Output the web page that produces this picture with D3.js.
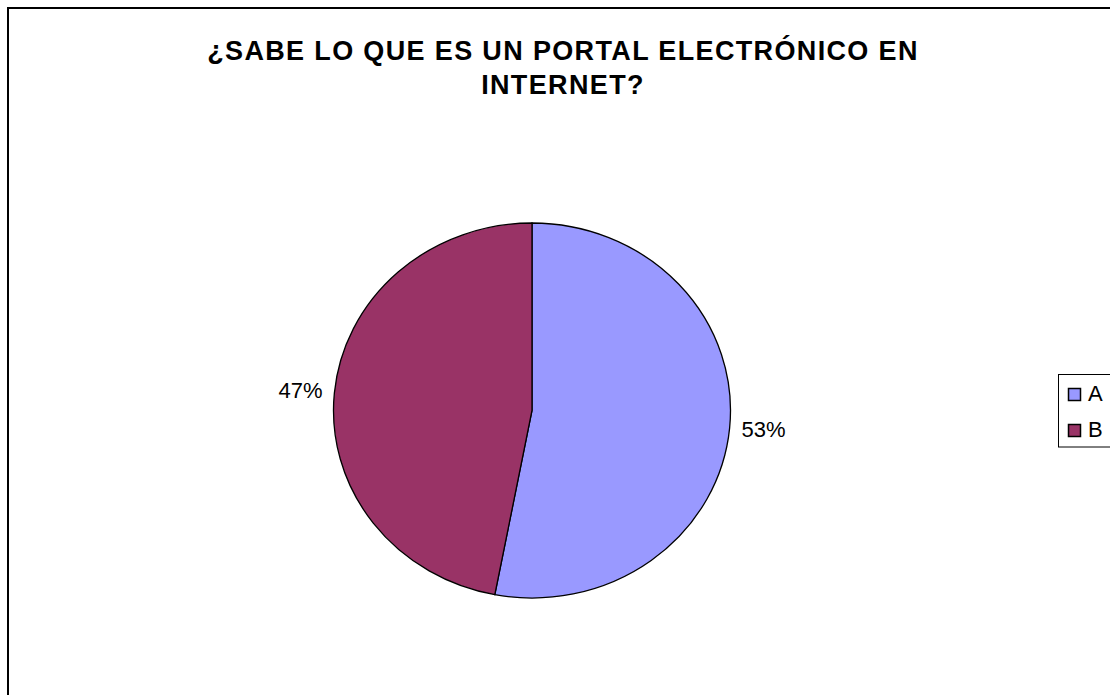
<!DOCTYPE html>
<html><head><meta charset="utf-8">
<script src="https://cdn.jsdelivr.net/npm/d3@7"></script>
<style>html,body{margin:0;padding:0;background:#fff;}svg{display:block;font-family:"Liberation Sans",Arial,sans-serif;}</style>
</head><body>
<svg id="c" width="1110" height="695"></svg>
<script>
const categories = ["A", "B"];
const values = [53, 47];
const labels = ["53%", "47%"];
const colors = ["#9999FF", "#993366"];
const titleLines = ["¿SABE LO QUE ES UN PORTAL ELECTRÓNICO EN", "INTERNET?"];

const svg = d3.select("#c");
svg.append("rect").attr("x", 8).attr("y", 8).attr("width", 1200).attr("height", 800)
  .attr("fill", "#fff").attr("stroke", "#000").attr("stroke-width", 2);

svg.selectAll("text.title").data(titleLines).join("text").attr("class", "title")
  .attr("x", 563).attr("y", (d, i) => 60 + i * 34).attr("text-anchor", "middle")
  .attr("font-size", 27).attr("font-weight", "bold").attr("letter-spacing", 1.35)
  .text(d => d);

const cx = 532, cy = 410.5, rx = 198.5, ry = 187.5;
const pie = d3.pie().sort(null).value(d => d)(values);
const arc = d3.arc().innerRadius(0).outerRadius(ry);
const g = svg.append("g").attr("transform", `translate(${cx},${cy}) scale(${rx / ry},1)`);
g.selectAll("path").data(pie).join("path").attr("d", arc)
  .attr("fill", (d, i) => colors[i]).attr("stroke", "#000").attr("stroke-width", 1.3)
  .attr("vector-effect", "non-scaling-stroke");

// labels
svg.selectAll("text.lbl").data(pie).join("text").attr("class", "lbl")
  .attr("x", d => {
    const a = (d.startAngle + d.endAngle) / 2;
    return cx + Math.sin(a) * (rx + 34);
  })
  .attr("y", d => {
    const a = (d.startAngle + d.endAngle) / 2;
    return cy - Math.cos(a) * (ry + 20) + 7;
  })
  .attr("text-anchor", "middle").attr("font-size", 22).text((d, i) => labels[i]);

// legend
const lg = svg.append("g");
lg.append("rect").attr("x", 1058.5).attr("y", 374.5).attr("width", 60).attr("height", 72.5)
  .attr("fill", "#fff").attr("stroke", "#000").attr("stroke-width", 1);
const items = lg.selectAll("g.item").data(categories).join("g").attr("class", "item")
  .attr("transform", (d, i) => `translate(0,${i * 36})`);
items.append("rect").attr("x", 1068.5).attr("y", 388.5).attr("width", 12).attr("height", 12)
  .attr("fill", (d, i) => colors[i]).attr("stroke", "#000").attr("stroke-width", 1.5);
items.append("text").attr("x", 1088).attr("y", 401).attr("font-size", 22).text(d => d);
</script>
</body></html>
